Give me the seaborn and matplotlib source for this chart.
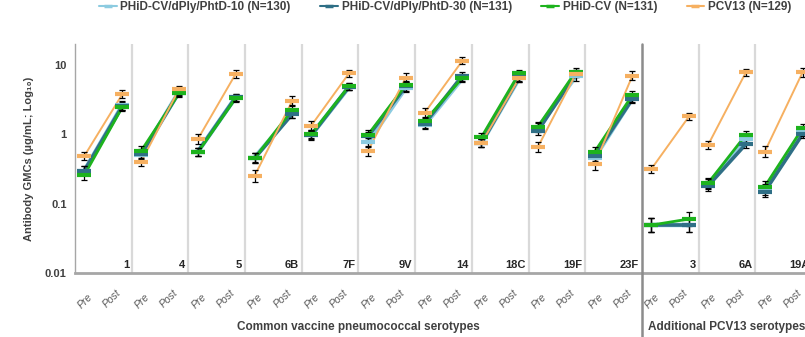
import numpy as np
import pandas as pd
import matplotlib
matplotlib.use("Agg")
import matplotlib.pyplot as plt
import matplotlib.transforms as mtransforms
from matplotlib.lines import Line2D
import seaborn as sns

# Serotype panels (Pre / Post per panel)
serotypes = ["1", "4", "5", "6B", "7F", "9V", "14", "18C", "19F", "23F", "3", "6A", "19A"]
timepoints = ["Pre", "Post"]

series_names = [
    "PHiD-CV/dPly/PhtD-10 (N=130)",
    "PHiD-CV/dPly/PhtD-30 (N=131)",
    "PHiD-CV (N=131)",
    "PCV13 (N=129)",
]

# GMC values (ug/mL)
pre_10 = [0.30, 0.50, 0.56, 0.46, 0.97, 0.76, 1.36, 0.74, 1.25, 0.46, 0.049, 0.19, 0.16]
post_10 = [2.6, 4.1, 3.4, 2.0, 4.8, 4.7, 6.4, 6.4, 6.8, 3.3, 0.049, 0.85, 1.1]

pre_30 = [0.30, 0.515, 0.56, 0.45, 0.96, 0.93, 1.42, 0.74, 1.12, 0.49, 0.049, 0.18, 0.149]
post_30 = [2.55, 3.98, 3.4, 1.96, 4.85, 4.9, 7.0, 6.6, 7.5, 3.23, 0.049, 0.72, 1.0]

pre_cv = [0.26, 0.575, 0.55, 0.45, 1.0, 0.98, 1.55, 0.90, 1.29, 0.56, 0.049, 0.197, 0.176]
post_cv = [2.45, 3.9, 3.3, 2.26, 4.95, 5.13, 6.5, 7.57, 8.0, 3.68, 0.060, 0.98, 1.22]

pre_13 = [0.49, 0.40, 0.85, 0.25, 1.33, 0.575, 2.03, 0.74, 0.66, 0.37, 0.316, 0.70, 0.56]
post_13 = [3.77, 4.45, 7.4, 3.05, 7.57, 6.54, 11.5, 6.4, 7.4, 7.0, 1.82, 7.8, 7.8]

# 95% CI half-widths in log10 units
err_pre_10 = [0.07, 0.07, 0.06, 0.07, 0.06, 0.07, 0.06, 0.06, 0.06, 0.07, 0.10, 0.07, 0.08]
err_post_10 = [0.06, 0.05, 0.05, 0.06, 0.05, 0.06, 0.05, 0.05, 0.06, 0.06, 0.10, 0.06, 0.06]
err_pre_30 = [0.07, 0.07, 0.06, 0.07, 0.06, 0.07, 0.06, 0.06, 0.06, 0.07, 0.10, 0.07, 0.08]
err_post_30 = [0.06, 0.05, 0.05, 0.06, 0.05, 0.06, 0.05, 0.05, 0.05, 0.06, 0.10, 0.06, 0.06]
err_pre_cv = [0.07, 0.07, 0.06, 0.07, 0.06, 0.07, 0.06, 0.06, 0.06, 0.07, 0.10, 0.07, 0.08]
err_post_cv = [0.06, 0.05, 0.05, 0.06, 0.05, 0.06, 0.05, 0.05, 0.05, 0.06, 0.10, 0.06, 0.06]
err_pre_13 = [0.06, 0.06, 0.07, 0.08, 0.06, 0.07, 0.07, 0.06, 0.07, 0.08, 0.06, 0.06, 0.08]
err_post_13 = [0.06, 0.05, 0.06, 0.07, 0.05, 0.06, 0.05, 0.05, 0.05, 0.06, 0.05, 0.05, 0.06]

colors = ["#8ccbe0", "#2f6f86", "#1db31d", "#f6b061"]
widths = [3.2, 2.6, 2.0, 1.4]

pre_vals = [pre_10, pre_30, pre_cv, pre_13]
post_vals = [post_10, post_30, post_cv, post_13]
pre_errs = [err_pre_10, err_pre_30, err_pre_cv, err_pre_13]
post_errs = [err_post_10, err_post_30, err_post_cv, err_post_13]

# long table for seaborn
rows = []
for s, name in enumerate(series_names):
    for i, sero in enumerate(serotypes):
        rows.append({"series": name, "panel": sero, "x": 3 * i + 0.5,
                     "gmc": pre_vals[s][i], "err": pre_errs[s][i]})
        rows.append({"series": name, "panel": sero, "x": 3 * i + 2.5,
                     "gmc": post_vals[s][i], "err": post_errs[s][i]})
df = pd.DataFrame(rows)

sns.set_style("white")
plt.rcParams["font.family"] = ["Liberation Sans Narrow", "Liberation Sans", "DejaVu Sans"]
plt.rcParams["font.weight"] = "bold"

text_col = "#404040"
fig = plt.figure(figsize=(8.05, 3.37), dpi=100)
ax = fig.add_axes([0.0932, 0.19, 0.9155, 0.6795])

palette = dict(zip(series_names, colors))
sizes = dict(zip(series_names, widths))

sns.lineplot(data=df, x="x", y="gmc", hue="series", size="series",
             units="panel", estimator=None, palette=palette, sizes=sizes,
             hue_order=series_names, size_order=series_names,
             legend=False, ax=ax, zorder=2)

for s, name in enumerate(series_names):
    sub = df[df["series"] == name]
    lo = sub["gmc"] - sub["gmc"] / 10 ** sub["err"]
    hi = sub["gmc"] * 10 ** sub["err"] - sub["gmc"]
    ax.errorbar(sub["x"], sub["gmc"], yerr=[lo, hi], fmt="none",
                ecolor="black", elinewidth=0.9, capsize=2.2, capthick=0.9, zorder=3)
    ax.plot(sub["x"], sub["gmc"], linestyle="none", marker="_",
            markersize=10, markeredgewidth=3, color=colors[s], zorder=4)

ax.set_yscale("log")
ax.set_ylim(0.01, 20)
ax.set_xlim(0, 39)
ax.set_yticks([0.01, 0.1, 1, 10])
ax.set_yticklabels(["0.01", "0.1", "1", "10"])
ax.minorticks_off()
ax.set_xticks([3 * i for i in range(1, 13)])
ax.set_xticklabels([])
ax.tick_params(axis="y", length=4, color="#a6a6a6", labelsize=8, labelcolor=text_col, pad=2)
ax.tick_params(axis="x", length=5, color="#a6a6a6", direction="out")
ax.set_xlabel("")
ax.set_ylabel("Antibody GMCs (µg/mL; Log₁₀)", fontsize=8, color=text_col,
              fontweight="bold", labelpad=8)

for side in ["top", "right"]:
    ax.spines[side].set_visible(False)
ax.spines["left"].set_color("#a6a6a6")
ax.spines["left"].set_linewidth(1)
ax.spines["bottom"].set_color("#a6a6a6")
ax.spines["bottom"].set_linewidth(2)

trans = mtransforms.blended_transform_factory(ax.transData, ax.transAxes)

# panel separators
for i in range(1, 13):
    if i == 10:
        ax.add_line(Line2D([3 * i, 3 * i], [1, -0.285], transform=trans,
                           color="#8c8c8c", lw=1.8, clip_on=False, zorder=5))
    else:
        ax.axvline(3 * i, color="#d9d9d9", lw=1.6, zorder=1)

# serotype labels and Pre/Post labels
for i, sero in enumerate(serotypes):
    ax.text(3 * i + 2.85, 0.015, sero, transform=trans, ha="right", va="bottom",
            fontsize=8, fontweight="bold", color="#262626")
    ax.text(3 * i + 1.05, -0.085, timepoints[0], transform=trans, ha="right", va="top",
            rotation=45, fontsize=7.5, fontstyle="italic", fontweight="normal",
            color="#595959")
    ax.text(3 * i + 2.55, -0.065, timepoints[1], transform=trans, ha="right", va="top",
            rotation=45, fontsize=7.5, fontstyle="italic", fontweight="normal",
            color="#595959")

fig.text(358.5 / 805, 1 - 327 / 337, "Common vaccine pneumococcal serotypes",
         ha="center", va="center", fontsize=8.5, fontweight="bold", color=text_col)
fig.text(727 / 805, 1 - 327 / 337, "Additional PCV13 serotypes",
         ha="center", va="center", fontsize=8.5, fontweight="bold", color=text_col)

handles = [Line2D([0], [0], color=c, lw=1.5, marker="_", markersize=6,
                  markeredgewidth=2.5) for c in colors]
leg = fig.legend(handles, series_names, loc="center", bbox_to_anchor=(0.553, 1 - 7 / 337),
                 ncol=4, frameon=False, fontsize=8.5, handlelength=1.5,
                 handletextpad=0.3, columnspacing=2.5)
for t in leg.get_texts():
    t.set_color(text_col)
    t.set_fontweight("bold")

fig.savefig("out.png", dpi=100)
